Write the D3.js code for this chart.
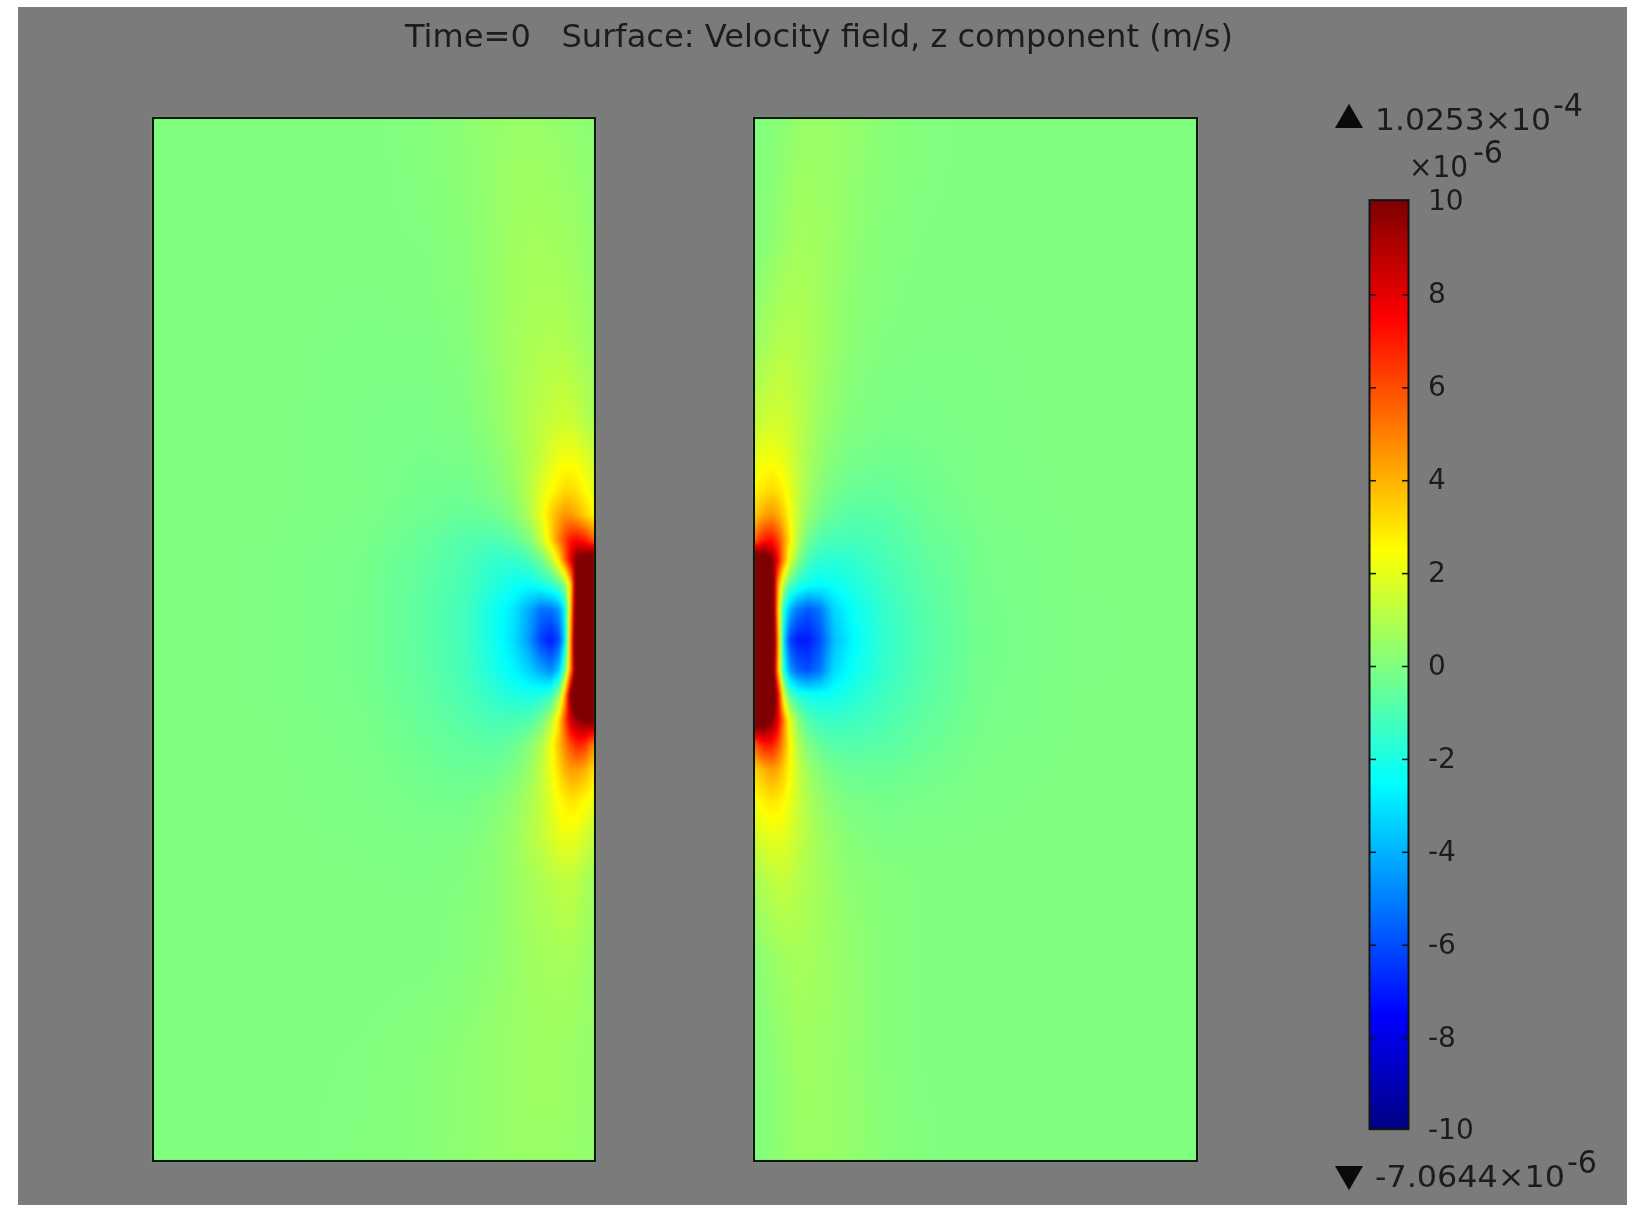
<!DOCTYPE html>
<html>
<head>
<meta charset="utf-8">
<script src="https://d3js.org/d3.v7.min.js"></script>
<style>
html, body { margin: 0; background: #fff; }
svg { display: block; }
text { font-family: "DejaVu Sans", sans-serif; fill: #1c1c1c; filter: blur(0.6px); }
</style>
</head>
<body>
<svg id="chart" width="1637" height="1205"></svg>
<script>
// Model coordinates of the sampled field, shared by both panels
var wallDist = [0, 10, 18, 24, 30, 36, 44, 54, 66, 80, 100, 130, 170, 230, 320, 442];
var heights = [522, 400, 300, 220, 180, 150, 125, 100, 80, 55, 30, 0, -30, -55, -80, -105, -130, -160, -195, -240, -320, -420, -521];

// Velocity z component, x 1e-6 m/s. One row per height, one value per wallDist
var leftField = [
	[0.2, 0.25, 0.3, 0.33, 0.36, 0.4, 0.42, 0.45, 0.47, 0.48, 0.42, 0.25, 0.08, 0, 0, 0],
	[0.35, 0.4, 0.5, 0.55, 0.6, 0.62, 0.65, 0.68, 0.68, 0.62, 0.45, 0.2, 0.03, 0, 0, 0],
	[0.5, 0.6, 0.72, 0.8, 0.85, 0.88, 0.9, 0.88, 0.8, 0.68, 0.45, 0.1, -0.03, -0.05, 0, 0],
	[0.8, 1.05, 1.3, 1.45, 1.5, 1.45, 1.35, 1.2, 1, 0.75, 0.35, 0, -0.12, -0.1, 0, 0],
	[1.5, 1.9, 2.2, 2.3, 2.3, 2.2, 1.85, 1.4, 1, 0.6, 0.15, -0.15, -0.2, -0.1, 0, 0],
	[2, 2.5, 3, 3.2, 3.2, 2.9, 2.5, 1.8, 1.1, 0.45, 0, -0.3, -0.25, -0.08, -0.01, 0],
	[2.6, 3.4, 4.1, 4.5, 4.6, 4.2, 3.4, 2.1, 0.9, 0.15, -0.3, -0.5, -0.35, -0.1, -0.02, 0],
	[5.5, 7, 7.4, 7.2, 6.2, 5, 3.2, 1.3, 0, -0.6, -1, -0.85, -0.5, -0.15, -0.02, 0],
	[12, 11, 10.5, 8, 5.5, 3, 1, -0.3, -1.1, -1.5, -1.5, -1, -0.6, -0.2, -0.03, 0],
	[60, 25, 12, 3.5, 0.2, -0.9, -1.5, -2.1, -2.4, -2.3, -1.8, -1.1, -0.65, -0.2, -0.03, 0],
	[90, 35, 13, 4, -2.5, -4.5, -5.3, -5.3, -4.2, -3, -2.2, -1.2, -0.7, -0.22, -0.03, 0],
	[100, 40, 14, 5, -3, -6, -7, -6.3, -4.5, -3.2, -2.2, -1.2, -0.7, -0.22, -0.03, 0],
	[95, 38, 13, 5, -0.5, -3.6, -4.8, -4.2, -3.4, -2.7, -2, -1.15, -0.65, -0.22, -0.03, 0],
	[60, 25, 13, 10.5, 4, 0.4, -1.4, -1.9, -2, -1.9, -1.6, -1, -0.6, -0.2, -0.03, 0],
	[10.5, 10, 9.5, 8.5, 6, 3.2, 1, -0.3, -0.9, -1.1, -1.1, -0.8, -0.5, -0.15, -0.02, 0],
	[4.5, 6.5, 6.8, 6, 5, 3.8, 2.2, 0.9, 0.1, -0.4, -0.7, -0.6, -0.4, -0.12, -0.02, 0],
	[3, 4, 4.4, 4.4, 4, 3.2, 2.2, 1.2, 0.5, 0, -0.35, -0.45, -0.3, -0.1, -0.01, 0],
	[2.1, 2.6, 2.9, 3, 2.8, 2.5, 1.9, 1.3, 0.8, 0.35, 0, -0.25, -0.2, -0.08, -0.01, 0],
	[1.2, 1.7, 2, 2.15, 2.2, 2, 1.7, 1.3, 0.95, 0.55, 0.2, -0.05, -0.1, -0.05, 0, 0],
	[0.6, 0.85, 1.1, 1.25, 1.25, 1.2, 1.05, 0.9, 0.75, 0.5, 0.25, 0.05, -0.03, -0.02, 0, 0],
	[0.45, 0.55, 0.65, 0.72, 0.75, 0.75, 0.72, 0.68, 0.6, 0.48, 0.3, 0.1, 0, 0, 0, 0],
	[0.4, 0.42, 0.45, 0.5, 0.52, 0.55, 0.55, 0.55, 0.55, 0.5, 0.42, 0.3, 0.12, 0.03, 0, 0],
	[0.35, 0.38, 0.42, 0.45, 0.47, 0.5, 0.52, 0.52, 0.5, 0.48, 0.42, 0.3, 0.15, 0.05, 0, 0]
];

var rightField = [
	[0.05, 0.05, 0.1, 0.15, 0.2, 0.3, 0.42, 0.45, 0.47, 0.47, 0.38, 0.18, 0.05, 0, 0, 0],
	[0.1, 0.15, 0.25, 0.4, 0.5, 0.6, 0.68, 0.68, 0.6, 0.48, 0.3, 0.1, 0.02, 0, 0, 0],
	[0.5, 0.65, 0.85, 0.95, 1, 1, 0.95, 0.85, 0.68, 0.45, 0.2, 0.03, -0.03, -0.03, 0, 0],
	[1.3, 1.45, 1.55, 1.6, 1.55, 1.4, 1.15, 0.85, 0.55, 0.28, 0.02, -0.1, -0.12, -0.05, 0, 0],
	[2, 2.3, 2.35, 2.25, 2, 1.7, 1.25, 0.8, 0.4, 0.05, -0.2, -0.3, -0.22, -0.06, 0, 0],
	[2.6, 3, 3.2, 3, 2.6, 2.05, 1.35, 0.65, 0.15, -0.2, -0.45, -0.5, -0.3, -0.08, -0.01, 0],
	[3.4, 4.3, 4.6, 4.2, 3.4, 2.4, 1.3, 0.4, -0.2, -0.55, -0.8, -0.75, -0.42, -0.1, -0.01, 0],
	[5.5, 7, 7.2, 6.2, 4.6, 2.8, 1, -0.3, -0.9, -1.1, -1.15, -0.95, -0.55, -0.15, -0.02, 0],
	[12, 11.5, 10, 7.5, 4.5, 2, 0.1, -1.1, -1.6, -1.7, -1.55, -1.1, -0.65, -0.18, -0.02, 0],
	[60, 25, 12, 4.5, 0.8, -0.9, -1.8, -2.3, -2.5, -2.3, -1.9, -1.3, -0.72, -0.2, -0.02, 0],
	[90, 35, 13, 3.5, -2, -4, -5.2, -5.8, -5.2, -3.3, -2.3, -1.5, -0.8, -0.22, -0.03, 0],
	[100, 40, 14, 4.5, -3.2, -6.2, -7, -7, -6, -3.8, -2.5, -1.55, -0.85, -0.25, -0.03, 0],
	[95, 38, 13, 4, -2, -4.5, -5.6, -6, -5.2, -3.2, -2.3, -1.5, -0.8, -0.22, -0.03, 0],
	[60, 25, 13, 8, 1.5, -0.9, -1.8, -2.2, -2.3, -2.2, -1.8, -1.25, -0.72, -0.2, -0.02, 0],
	[12, 11, 10, 8, 4.8, 2, 0.2, -0.9, -1.3, -1.4, -1.3, -1, -0.6, -0.18, -0.02, 0],
	[5.5, 7, 7, 6, 4.4, 2.6, 1, 0, -0.55, -0.8, -0.85, -0.75, -0.45, -0.12, -0.01, 0],
	[3.2, 4, 4.4, 4.1, 3.4, 2.5, 1.4, 0.6, 0.1, -0.25, -0.45, -0.45, -0.3, -0.08, -0.01, 0],
	[2.3, 2.8, 3, 2.9, 2.6, 2.1, 1.5, 0.9, 0.45, 0.1, -0.15, -0.22, -0.15, -0.05, 0, 0],
	[1.6, 1.9, 2.05, 2.05, 1.95, 1.7, 1.35, 1, 0.65, 0.35, 0.1, -0.05, -0.05, -0.02, 0, 0],
	[0.8, 0.95, 1.2, 1.3, 1.35, 1.25, 1.05, 0.85, 0.7, 0.45, 0.25, 0.1, 0.02, 0, 0, 0],
	[0.2, 0.3, 0.45, 0.55, 0.62, 0.7, 0.75, 0.72, 0.62, 0.52, 0.35, 0.12, 0.02, 0, 0, 0],
	[0.1, 0.12, 0.2, 0.3, 0.38, 0.45, 0.55, 0.55, 0.52, 0.46, 0.35, 0.12, 0.02, 0, 0, 0],
	[0.05, 0.08, 0.15, 0.25, 0.32, 0.4, 0.5, 0.52, 0.5, 0.45, 0.35, 0.15, 0.03, 0, 0, 0]
];

// Rainbow colour table and colour bar ticks
var colorValues = [-10, -7.5, -2.5, 2.5, 7.5, 10];
var colorStops = ['#00007f', '#0000ff', '#00ffff', '#ffff00', '#ff0000', '#7f0000'];
var barTicks = [-10, -8, -6, -4, -2, 0, 2, 4, 6, 8, 10];
var barTop = 10.04;
var barBottom = -9.96;

var svg = d3.select('#chart');

svg.append('rect')			// Grey plot window, the page stays white around it
	.attr('x', 18)
	.attr('y', 7)
	.attr('width', 1609)
	.attr('height', 1198)
	.style('fill', '#7b7b7b');

var color = d3.scaleLinear().domain(colorValues).range(colorStops).clamp(true);

// Lookup table so we don't parse a colour string per pixel
var lutScale = d3.scaleLinear().domain([-10, 10]).range([0, 1023]).clamp(true);
var lut = d3.range(1024).map(function (i) {
	return d3.rgb(color(lutScale.invert(i)));
});

var heightScale = d3.scaleLinear().domain([522, -521]).range([118, 1161]);
var heightIndex = d3.scaleLinear().domain(heights).range(d3.range(heights.length)).clamp(true);
var wallIndex = d3.scaleLinear().domain(wallDist).range(d3.range(wallDist.length)).clamp(true);

function fieldImage(field, xScale) {
	var x0 = d3.min(xScale.range());
	var x1 = d3.max(xScale.range());
	var canvas = document.createElement('canvas');
	canvas.width = x1 - x0;
	canvas.height = 1043;
	var ctx = canvas.getContext('2d');
	var img = ctx.createImageData(canvas.width, canvas.height);

	// Fractional grid position of every column and row of the image
	var cols = d3.range(canvas.width).map(function (i) {
		return wallIndex(xScale.invert(x0 + i + 0.5));
	});
	var rows = d3.range(canvas.height).map(function (j) {
		return heightIndex(heightScale.invert(118 + j + 0.5));
	});

	rows.forEach(function (r, j) {
		var r0 = Math.min(Math.floor(r), heights.length - 2);
		var fr = r - r0;
		cols.forEach(function (c, i) {
			var c0 = Math.min(Math.floor(c), wallDist.length - 2);
			var fc = c - c0;
			var v = (field[r0][c0] * (1 - fc) + field[r0][c0 + 1] * fc) * (1 - fr)
				+ (field[r0 + 1][c0] * (1 - fc) + field[r0 + 1][c0 + 1] * fc) * fr;
			var rgb = lut[Math.round(lutScale(v))];
			var k = (j * canvas.width + i) * 4;
			img.data[k] = rgb.r;
			img.data[k + 1] = rgb.g;
			img.data[k + 2] = rgb.b;
			img.data[k + 3] = 255;
		});
	});
	ctx.putImageData(img, 0, 0);
	return canvas.toDataURL();
}

// Two panels, each one measured from its own inner wall
var panels = [
	{ field: leftField, scale: d3.scaleLinear().domain([0, 442]).range([595, 153]) },
	{ field: rightField, scale: d3.scaleLinear().domain([0, 443]).range([754, 1197]) }
];

var panel = svg.selectAll('g.panel')
	.data(panels)
	.enter()
	.append('g')
	.attr('class', 'panel');

panel.append('image')
	.attr('x', function (d) { return d3.min(d.scale.range()); })
	.attr('y', 118)
	.attr('width', function (d) { return d3.max(d.scale.range()) - d3.min(d.scale.range()); })
	.attr('height', 1043)
	.attr('preserveAspectRatio', 'none')
	.attr('href', function (d) { return fieldImage(d.field, d.scale); })
	.style('filter', 'blur(1.2px)');

panel.append('rect')
	.attr('x', function (d) { return d3.min(d.scale.range()); })
	.attr('y', 118)
	.attr('width', function (d) { return d3.max(d.scale.range()) - d3.min(d.scale.range()); })
	.attr('height', 1043)
	.style('fill', 'none')
	.style('stroke', '#0c1a0c')
	.style('stroke-width', 2);

// Colour bar
var barScale = d3.scaleLinear().domain([-10, 10]).range([1131, 202]);

var gradient = svg.append('defs')
	.append('linearGradient')
	.attr('id', 'jet')
	.attr('gradientUnits', 'userSpaceOnUse')
	.attr('x1', 0)
	.attr('x2', 0)
	.attr('y1', barScale(-10))
	.attr('y2', barScale(10));

gradient.selectAll('stop')
	.data(colorValues)
	.enter()
	.append('stop')
	.attr('offset', function (d) { return (d + 10) / 20; })
	.attr('stop-color', function (d) { return color(d); });

svg.append('rect')
	.attr('x', 1369.5)
	.attr('y', barScale(barTop))
	.attr('width', 39)
	.attr('height', barScale(barBottom) - barScale(barTop))
	.style('fill', 'url(#jet)')
	.style('stroke', '#101418')
	.style('stroke-width', 2);

// Tick marks sit inside the bar on both sides
svg.selectAll('line.tick-left')
	.data(barTicks.slice(1, -1))
	.enter()
	.append('line')
	.attr('class', 'tick-left')
	.attr('x1', 1370)
	.attr('x2', 1376)
	.attr('y1', function (d) { return barScale(d); })
	.attr('y2', function (d) { return barScale(d); })
	.style('stroke', '#101418')
	.style('stroke-width', 1.5);

svg.selectAll('line.tick-right')
	.data(barTicks.slice(1, -1))
	.enter()
	.append('line')
	.attr('class', 'tick-right')
	.attr('x1', 1402)
	.attr('x2', 1408)
	.attr('y1', function (d) { return barScale(d); })
	.attr('y2', function (d) { return barScale(d); })
	.style('stroke', '#101418')
	.style('stroke-width', 1.5);

var barAxis = d3.axisRight(barScale)
	.tickValues(barTicks)
	.tickFormat(function (d) { return String(d); })
	.tickSize(0)
	.tickPadding(19);

svg.append('g')
	.attr('transform', 'translate(1409,-1)')
	.call(barAxis)
	.call(function (g) { g.select('.domain').remove(); })
	.selectAll('text')
	.style('font-family', '"DejaVu Sans", sans-serif')
	.style('font-size', '28px')
	.style('fill', '#1c1c1c');

// Title and limit labels
svg.append('text')
	.attr('x', 405)
	.attr('y', 47)
	.attr('textLength', 828)
	.attr('lengthAdjust', 'spacingAndGlyphs')
	.style('font-size', '32px')
	.style('white-space', 'pre')
	.text('Time=0   Surface: Velocity field, z component (m/s)');

var labels = [
	{ x: 1375, y: 130, size: 30, len: 176, text: '1.0253×10' },
	{ x: 1553, y: 116, size: 32, len: 30, text: '-4' },
	{ x: 1409, y: 177, size: 30, len: 59, text: '×10' },
	{ x: 1473, y: 163, size: 32, len: 30, text: '-6' },
	{ x: 1375, y: 1187, size: 30, len: 190, text: '-7.0644×10' },
	{ x: 1567, y: 1173, size: 32, len: 30, text: '-6' }
];

svg.selectAll('text.limit')
	.data(labels)
	.enter()
	.append('text')
	.attr('class', 'limit')
	.attr('x', function (d) { return d.x; })
	.attr('y', function (d) { return d.y; })
	.attr('textLength', function (d) { return d.len; })
	.attr('lengthAdjust', 'spacingAndGlyphs')
	.style('font-size', function (d) { return d.size + 'px'; })
	.text(function (d) { return d.text; });

// Max and min markers
var markers = [
	{ x: 1349, y: 120, type: d3.symbolTriangle, rotate: 0 },
	{ x: 1349, y: 1174, type: d3.symbolTriangle, rotate: 180 }
];

svg.selectAll('path.marker')
	.data(markers)
	.enter()
	.append('path')
	.attr('class', 'marker')
	.attr('d', function (d) { return d3.symbol().type(d.type).size(340)(); })
	.attr('transform', function (d) { return 'translate(' + d.x + ',' + d.y + ') rotate(' + d.rotate + ')'; })
	.style('fill', '#0a0a0a');
</script>
</body>
</html>
